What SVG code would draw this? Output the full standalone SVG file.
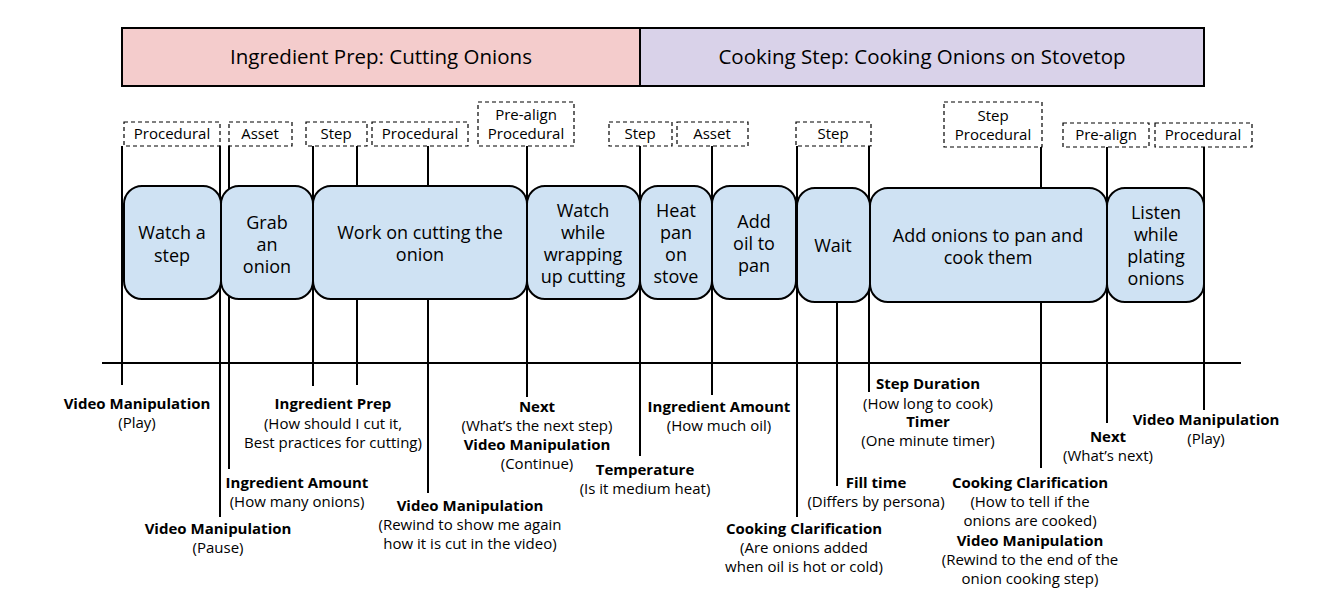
<svg xmlns="http://www.w3.org/2000/svg" width="1344" height="600" viewBox="0 0 1344 600">
<style>
text{font-family:"Open Sans","Noto Sans","Liberation Sans",sans-serif;fill:#000;text-anchor:middle}
.ban{font-size:20.5px}
.nt{font-size:18px}
.tag{font-size:15px}
.b{font-size:15px;font-weight:bold}
.r{font-size:15px}
.node{fill:#cfe2f3;stroke:#000;stroke-width:2}
.dash{fill:#fff;stroke:#000;stroke-width:1.2;stroke-dasharray:4 3}
.ln{stroke:#000;stroke-width:2;fill:none}
</style>
<rect width="1344" height="600" fill="#fff"/>
<g id="banner">
<rect x="122" y="28" width="518" height="58" fill="#f4cccc" stroke="#000" stroke-width="2"/>
<rect x="640" y="28" width="564" height="58" fill="#d9d2e9" stroke="#000" stroke-width="2"/>
<text class="ban" x="381" y="64">Ingredient Prep: Cutting Onions</text>
<text class="ban" x="922" y="64">Cooking Step: Cooking Onions on Stovetop</text>
</g>
<g id="connectors">
<line class="ln" x1="102" y1="363" x2="1241" y2="363" stroke-width="3"/>
<line class="ln" x1="122" y1="146" x2="122" y2="385"/>
<line class="ln" x1="220" y1="146" x2="220" y2="517"/>
<line class="ln" x1="229" y1="146" x2="229" y2="469"/>
<line class="ln" x1="313" y1="146" x2="313" y2="386"/>
<line class="ln" x1="357" y1="146" x2="357" y2="385"/>
<line class="ln" x1="428" y1="146" x2="428" y2="493"/>
<line class="ln" x1="527" y1="146" x2="527" y2="397"/>
<line class="ln" x1="640" y1="146" x2="640" y2="456"/>
<line class="ln" x1="712" y1="146" x2="712" y2="395"/>
<line class="ln" x1="797" y1="146" x2="797" y2="517"/>
<line class="ln" x1="837" y1="300" x2="837" y2="486"/>
<line class="ln" x1="869" y1="146" x2="869" y2="392"/>
<line class="ln" x1="1041" y1="146" x2="1041" y2="468"/>
<line class="ln" x1="1107" y1="146" x2="1107" y2="423"/>
<line class="ln" x1="1204" y1="146" x2="1204" y2="410"/>
</g>
<g id="tags">
<rect class="dash" x="124" y="122" width="96" height="24"/><text class="tag" x="172" y="139">Procedural</text>
<rect class="dash" x="229" y="122" width="63" height="24"/><text class="tag" x="260" y="139">Asset</text>
<rect class="dash" x="306" y="122" width="61" height="24"/><text class="tag" x="336" y="139">Step</text>
<rect class="dash" x="372" y="122" width="96" height="24"/><text class="tag" x="420" y="139">Procedural</text>
<rect class="dash" x="478" y="102" width="96" height="44"/><text class="tag" x="526" y="120">Pre-align</text><text class="tag" x="526" y="139">Procedural</text>
<rect class="dash" x="609" y="122" width="63" height="24"/><text class="tag" x="640" y="139">Step</text>
<rect class="dash" x="677" y="122" width="71" height="24"/><text class="tag" x="712" y="139">Asset</text>
<rect class="dash" x="796" y="122" width="75" height="24"/><text class="tag" x="833" y="139">Step</text>
<rect class="dash" x="944" y="102" width="98" height="45"/><text class="tag" x="993" y="121">Step</text><text class="tag" x="993" y="140">Procedural</text>
<rect class="dash" x="1063" y="123" width="86" height="24"/><text class="tag" x="1106" y="140">Pre-align</text>
<rect class="dash" x="1155" y="123" width="97" height="24"/><text class="tag" x="1203" y="140">Procedural</text>
</g>
<g id="n1"><rect class="node" x="124" y="186" width="97" height="113" rx="18"/><text class="nt" x="172" y="239">Watch a</text><text class="nt" x="172" y="262">step</text></g>
<g id="n2"><rect class="node" x="221" y="186" width="92" height="113" rx="18"/><text class="nt" x="267" y="229">Grab</text><text class="nt" x="267" y="251">an</text><text class="nt" x="267" y="273">onion</text></g>
<g id="n3"><rect class="node" x="313" y="186" width="214" height="113" rx="18"/><text class="nt" x="420" y="239">Work on cutting the</text><text class="nt" x="420" y="261">onion</text></g>
<g id="n4"><rect class="node" x="527" y="186" width="113" height="113" rx="18"/><text class="nt" x="583" y="217">Watch</text><text class="nt" x="583" y="239">while</text><text class="nt" x="583" y="261">wrapping</text><text class="nt" x="583" y="283">up cutting</text></g>
<g id="n5"><rect class="node" x="640" y="186" width="72" height="113" rx="18"/><text class="nt" x="676" y="217">Heat</text><text class="nt" x="676" y="239">pan</text><text class="nt" x="676" y="261">on</text><text class="nt" x="676" y="283">stove</text></g>
<g id="n6"><rect class="node" x="712" y="186" width="84" height="113" rx="18"/><text class="nt" x="754" y="228">Add</text><text class="nt" x="754" y="250">oil to</text><text class="nt" x="754" y="272">pan</text></g>
<g id="n7"><rect class="node" x="797" y="188" width="73" height="114" rx="18"/><text class="nt" x="833" y="252">Wait</text></g>
<g id="n8"><rect class="node" x="870" y="188" width="237" height="114" rx="18"/><text class="nt" x="988" y="242">Add onions to pan and</text><text class="nt" x="988" y="264">cook them</text></g>
<g id="n9"><rect class="node" x="1107" y="188" width="97" height="114" rx="18"/><text class="nt" x="1156" y="219">Listen</text><text class="nt" x="1156" y="241">while</text><text class="nt" x="1156" y="263">plating</text><text class="nt" x="1156" y="285">onions</text></g>
<g id="labels">
<text class="b" x="137" y="409">Video Manipulation</text><text class="r" x="137" y="428">(Play)</text>
<text class="b" x="218" y="534">Video Manipulation</text><text class="r" x="218" y="553">(Pause)</text>
<text class="b" x="297" y="488">Ingredient Amount</text><text class="r" x="297" y="507">(How many onions)</text>
<text class="b" x="333" y="409">Ingredient Prep</text><text class="r" x="333" y="429">(How should I cut it,</text><text class="r" x="333" y="448">Best practices for cutting)</text>
<text class="b" x="470" y="511">Video Manipulation</text><text class="r" x="470" y="530">(Rewind to show me again</text><text class="r" x="470" y="549">how it is cut in the video)</text>
<text class="b" x="537" y="412">Next</text><text class="r" x="537" y="431">(What’s the next step)</text><text class="b" x="537" y="450">Video Manipulation</text><text class="r" x="537" y="469">(Continue)</text>
<text class="b" x="645" y="475">Temperature</text><text class="r" x="645" y="494">(Is it medium heat)</text>
<text class="b" x="719" y="412">Ingredient Amount</text><text class="r" x="719" y="431">(How much oil)</text>
<text class="b" x="804" y="534">Cooking Clarification</text><text class="r" x="804" y="553">(Are onions added</text><text class="r" x="804" y="572">when oil is hot or cold)</text>
<text class="b" x="876" y="488">Fill time</text><text class="r" x="876" y="507">(Differs by persona)</text>
<text class="b" x="928" y="389">Step Duration</text><text class="r" x="928" y="409">(How long to cook)</text><text class="b" x="928" y="427">Timer</text><text class="r" x="928" y="446">(One minute timer)</text>
<text class="b" x="1030" y="488">Cooking Clarification</text><text class="r" x="1030" y="507">(How to tell if the</text><text class="r" x="1030" y="526">onions are cooked)</text><text class="b" x="1030" y="546">Video Manipulation</text><text class="r" x="1030" y="565">(Rewind to the end of the</text><text class="r" x="1030" y="584">onion cooking step)</text>
<text class="b" x="1108" y="442">Next</text><text class="r" x="1108" y="461">(What’s next)</text>
<text class="b" x="1206" y="425">Video Manipulation</text><text class="r" x="1206" y="444">(Play)</text>
</g>
</svg>
